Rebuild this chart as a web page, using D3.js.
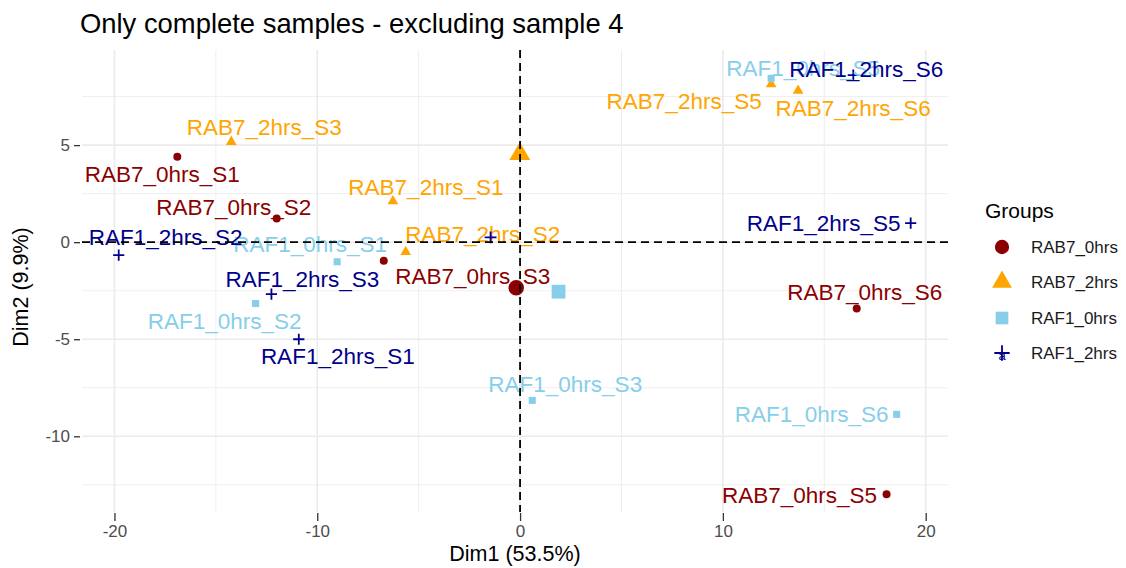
<!DOCTYPE html>
<html>
<head>
<meta charset="utf-8">
<script src="https://cdn.jsdelivr.net/npm/d3@7"></script>
<style>
  body { margin: 0; background: #fff; }
  svg { display: block; font-family: "Liberation Sans", Arial, sans-serif; }
</style>
</head>
<body>
<svg id="chart" width="1126" height="568"></svg>
<script>
const width = 1126;
const height = 568;

// groups and samples
const groups = ["RAB7_0hrs", "RAB7_2hrs", "RAF1_0hrs", "RAF1_2hrs"];
const samples = ["S1", "S2", "S3", "S5", "S6"];

// coordinates per group, in sample order S1,S2,S3,S5,S6
const dim1 = [
    [-16.9, -12.0, -6.72, 18.07, 16.6],
    [-6.27, -5.64, -14.24, 12.38, 13.71],
    [-9.02, -13.04, 0.6, 12.38, 18.57],
    [-10.91, -19.79, -12.26, 19.26, 16.43]
];
const dim2 = [
    [4.4, 1.22, -0.96, -12.99, -3.42],
    [2.11, -0.5, 5.17, 8.14, 7.8],
    [-1.01, -3.16, -8.15, 8.44, -8.87],
    [-5.0, -0.67, -2.68, 0.98, 8.61]
];

const xTicks = [-20, -10, 0, 10, 20];
const yTicks = [-10, -5, 0, 5];

const colors = ["#8B0000", "#FFA500", "#87CEEB", "#00008B"];

// label placement (pixel nudges, like ggrepel output)
const labelNudge = [
    [[-15, 18], [-43, -11], [89, 16], [-87, 1], [8, -16]],
    [[33, -14], [77, -17], [33, -14], [-87, 17], [55, 18]],
    [[-27, -17], [-31, 18], [33, -16], [32, -10], [-85, 0]],
    [[39, 17], [47, -18], [31, -15], [-87, 0], [13, -6]]
];

const panel = {left: 82, right: 948, top: 50, bottom: 512};

var svg = d3.select("#chart");

var x = d3.scaleLinear().domain([-21.6, 21.1]).range([panel.left, panel.right]);
var y = d3.scaleLinear().domain([-13.9, 9.9]).range([panel.bottom, panel.top]);

// gridlines
var minorX = [-15, -5, 5, 15];
var minorY = [-12.5, -7.5, -2.5, 2.5, 7.5];
var grid = svg.append("g");
grid.selectAll(".mx").data(minorX).enter().append("line")
    .attr("x1", d => x(d)).attr("x2", d => x(d))
    .attr("y1", panel.top).attr("y2", panel.bottom)
    .attr("stroke", "#EBEBEB").attr("stroke-width", 0.8);
grid.selectAll(".my").data(minorY).enter().append("line")
    .attr("x1", panel.left).attr("x2", panel.right)
    .attr("y1", d => y(d)).attr("y2", d => y(d))
    .attr("stroke", "#EBEBEB").attr("stroke-width", 0.8);
grid.selectAll(".gx").data(xTicks).enter().append("line")
    .attr("x1", d => x(d)).attr("x2", d => x(d))
    .attr("y1", panel.top).attr("y2", panel.bottom)
    .attr("stroke", "#EBEBEB").attr("stroke-width", 1.6);
grid.selectAll(".gy").data(yTicks).enter().append("line")
    .attr("x1", panel.left).attr("x2", panel.right)
    .attr("y1", d => y(d)).attr("y2", d => y(d))
    .attr("stroke", "#EBEBEB").attr("stroke-width", 1.6);

// axes
var xAxis = svg.append("g")
    .attr("transform", "translate(0," + (panel.bottom + 1) + ")")
    .call(d3.axisBottom(x).tickValues(xTicks).tickSize(8).tickPadding(4).tickFormat(d3.format("d")));
var yAxis = svg.append("g")
    .attr("transform", "translate(" + (panel.left - 2) + ",0)")
    .call(d3.axisLeft(y).tickValues(yTicks).tickSize(6).tickPadding(4).tickFormat(d3.format("d")));
[xAxis, yAxis].forEach(function (a) {
    a.select(".domain").remove();
    a.selectAll(".tick line").attr("stroke", "#333").attr("stroke-width", 1.3);
    a.selectAll(".tick text").attr("fill", "#4D4D4D").style("font-size", "17px")
        .style("font-family", "'Liberation Sans', Arial, sans-serif")
        .text(d => d < 0 ? "-" + Math.abs(d) : d);
});

function plusPath(s) {
    return "M" + (-s) + ",0H" + s + "M0," + (-s) + "V" + s;
}

function shapePath(g, size) {
    if (g == 0) return d3.symbol(d3.symbolCircle, size)();
    if (g == 1) return d3.symbol(d3.symbolTriangle, size)();
    if (g == 2) return d3.symbol(d3.symbolSquare, size)();
    return plusPath(Math.sqrt(size) / 1.6);
}

function drawShape(sel, g, size) {
    var p = sel.append("path").attr("d", shapePath(g, size));
    if (g == 3) {
        p.attr("fill", "none").attr("stroke", colors[g]).attr("stroke-width", 1.8);
    } else {
        p.attr("fill", colors[g]);
    }
    return p;
}

var pts = [];
groups.forEach(function (gname, g) {
    samples.forEach(function (s, i) {
        pts.push({g: g, name: gname + "_" + s, d1: dim1[g][i], d2: dim2[g][i], nudge: labelNudge[g][i]});
    });
});

// individual points
var pointLayer = svg.append("g");
pts.forEach(function (d) {
    var sel = pointLayer.append("g")
        .attr("transform", "translate(" + x(d.d1) + "," + y(d.d2) + ")");
    drawShape(sel, d.g, d.g == 3 ? 80 : 50);
});

// labels
var labelLayer = svg.append("g");
labelLayer.selectAll("text").data(pts).enter().append("text")
    .attr("x", d => x(d.d1) + d.nudge[0])
    .attr("y", d => y(d.d2) + d.nudge[1])
    .attr("text-anchor", "middle")
    .attr("dominant-baseline", "central")
    .attr("fill", d => colors[d.g])
    .style("font-size", "22.5px")
    .text(d => d.name);

// group means
var meanLayer = svg.append("g");
groups.forEach(function (gname, g) {
    var mx = d3.mean(dim1[g]);
    var my = d3.mean(dim2[g]);
    var sel = meanLayer.append("g")
        .attr("transform", "translate(" + x(mx) + "," + y(my) + ")");
    drawShape(sel, g, g == 3 ? 90 : 190);
});

// reference lines
svg.append("line")
    .attr("x1", x(0)).attr("x2", x(0))
    .attr("y1", panel.top).attr("y2", panel.bottom)
    .attr("stroke", "#000").attr("stroke-width", 1.8).attr("stroke-dasharray", "8,5");
svg.append("line")
    .attr("x1", panel.left).attr("x2", panel.right)
    .attr("y1", y(0)).attr("y2", y(0))
    .attr("stroke", "#000").attr("stroke-width", 1.8).attr("stroke-dasharray", "8,5");

// title and axis titles
svg.append("text")
    .attr("x", 80).attr("y", 33)
    .style("font-size", "27.4px").attr("fill", "#000")
    .text("Only complete samples - excluding sample 4");

svg.append("text")
    .attr("x", (panel.left + panel.right) / 2).attr("y", 561)
    .attr("text-anchor", "middle")
    .style("font-size", "21.5px")
    .text("Dim1 (53.5%)");

svg.append("text")
    .attr("transform", "translate(28," + ((panel.top + panel.bottom) / 2 + 6) + ") rotate(-90)")
    .attr("text-anchor", "middle")
    .style("font-size", "21.5px")
    .text("Dim2 (9.9%)");

// legend
var legend = svg.append("g").attr("transform", "translate(985,0)");
legend.append("text")
    .attr("x", 0).attr("y", 210)
    .attr("dominant-baseline", "central")
    .style("font-size", "21px")
    .text("Groups");

var legendY = [247, 282, 318, 353];
groups.forEach(function (gname, g) {
    var item = legend.append("g").attr("transform", "translate(17," + legendY[g] + ")");
    drawShape(item, g, g == 3 ? 150 : (g == 1 ? 170 : 160));
    if (g == 3) {
        item.append("text")
            .attr("text-anchor", "middle")
            .attr("dominant-baseline", "central")
            .attr("y", 2)
            .attr("fill", colors[g])
            .style("font-size", "13px")
            .text("a");
    }
    legend.append("text")
        .attr("x", 46).attr("y", legendY[g])
        .attr("dominant-baseline", "central")
        .attr("fill", "#1a1a1a")
        .style("font-size", "17px")
        .text(gname);
});
</script>
</body>
</html>
